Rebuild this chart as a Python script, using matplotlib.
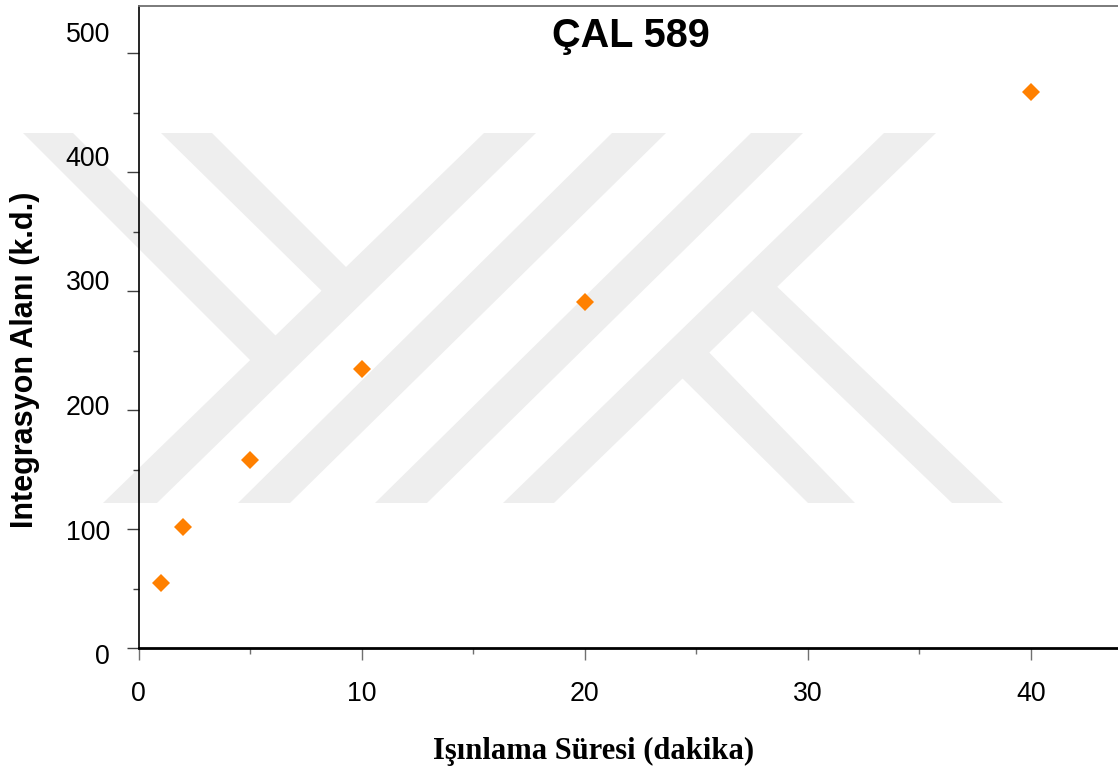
import matplotlib
matplotlib.use("Agg")
import matplotlib.pyplot as plt
from matplotlib.patches import Polygon
from matplotlib.transforms import Affine2D
from matplotlib.ticker import MultipleLocator, FixedLocator

# Irradiation time (minutes) and integrated area (arbitrary units)
sure_dk = [1, 2, 5, 10, 20, 40]
alan_kd = [54.5, 101.3, 157.7, 234.8, 291.2, 466.9]

x_ticks = [0, 10, 20, 30, 40]
y_ticks = [0, 100, 200, 300, 400, 500]

title = "ÇAL 589"
x_label = "Işınlama Süresi (dakika)"
y_label = "Integrasyon Alanı (k.d.)"

W, H = 1118, 778
fig = plt.figure(figsize=(W / 100, H / 100), dpi=100)
fig.patch.set_facecolor("white")

# Background logo drawn in pixel coordinates (origin top-left)
px = Affine2D().scale(1 / W, -1 / H).translate(0, 1) + fig.transFigure
logo = [
    [(484, 133), (536, 133), (157, 503), (103, 503)],
    [(23, 133), (73, 133), (285, 345), (260, 370)],
    [(161, 133), (212, 133), (356, 277), (332, 301)],
    [(612, 133), (666, 133), (290, 503), (238, 503)],
    [(751, 133), (803, 133), (427, 503), (375, 503)],
    [(884, 133), (936, 133), (554, 503), (503, 503)],
    [(768, 278), (1003, 503), (952, 503), (743, 302)],
    [(700, 343), (855, 503), (808, 503), (674, 370)],
]
for pts in logo:
    fig.add_artist(Polygon(pts, closed=True, transform=px,
                           facecolor="#eeeeee", edgecolor="none", zorder=-1))

x0, y0, ytop = 138.5, 648.0, 5.5
px_per_min = 22.305
ax = fig.add_axes([x0 / W, (H - y0) / H, 1 - x0 / W, (y0 - ytop) / H])
ax.patch.set_visible(False)
ax.set_xlim(0, (W - x0) / px_per_min)
ax.set_ylim(0, 540)

ax.plot(sure_dk, alan_kd, linestyle="none", marker="D", markersize=9.2,
        color="#ff8000", markeredgewidth=0, zorder=3)

ax.spines["right"].set_visible(False)
ax.spines["left"].set_color("black")
ax.spines["left"].set_linewidth(1.2)
ax.spines["bottom"].set_color("black")
ax.spines["bottom"].set_linewidth(2.0)
ax.spines["top"].set_color("#707070")
ax.spines["top"].set_linewidth(1.3)

tick_font = dict(family="Liberation Sans", size=19.3)

ax.xaxis.set_major_locator(FixedLocator(x_ticks))
ax.xaxis.set_minor_locator(MultipleLocator(5))
ax.set_xticklabels([str(v) for v in x_ticks], fontdict=tick_font)
ax.tick_params(axis="x", which="major", direction="out", length=8.5,
               width=1.0, color="#707070", pad=15)
ax.tick_params(axis="x", which="minor", direction="out", length=4.5,
               width=1.0, color="#707070")

ax.yaxis.set_major_locator(FixedLocator(y_ticks))
ax.yaxis.set_minor_locator(MultipleLocator(50))
ax.tick_params(axis="y", which="major", direction="out", length=8.5,
               width=1.0, color="#404040", labelleft=False)
ax.tick_params(axis="y", which="minor", direction="out", length=4,
               width=1.0, color="#404040")

# The vertical value labels are spread over a slightly taller band than the
# tick marks, so they get their own label-only axis.
lab_bottom, lab_top = 654.0, 31.5
lab = fig.add_axes([x0 / W, (H - lab_bottom) / H, 0.001,
                    (lab_bottom - lab_top) / H])
lab.patch.set_visible(False)
for s in lab.spines.values():
    s.set_visible(False)
lab.set_xticks([])
lab.set_ylim(y_ticks[0], y_ticks[-1])
lab.yaxis.set_major_locator(FixedLocator(y_ticks))
lab.set_yticklabels([str(v) for v in y_ticks], fontdict=tick_font)
lab.tick_params(axis="y", which="both", length=0, pad=20.5)

ax.text((631 - x0) / (W - x0), (y0 - 47) / (y0 - ytop), title,
        transform=ax.transAxes, ha="center", va="baseline",
        fontfamily="Liberation Sans", fontweight="bold", fontsize=28.5)

ax.set_xlabel(x_label, fontfamily="Liberation Serif", fontweight="bold",
              fontsize=22, va="center", ha="center")
ax.xaxis.set_label_coords(594 / W, 1 - 751 / H, transform=fig.transFigure)

ax.set_ylabel(y_label, fontfamily="Liberation Sans", fontweight="bold",
              fontsize=22, va="center", ha="center")
ax.yaxis.set_label_coords(25 / W, 1 - 360 / H, transform=fig.transFigure)

fig.savefig("out.png", dpi=100)
